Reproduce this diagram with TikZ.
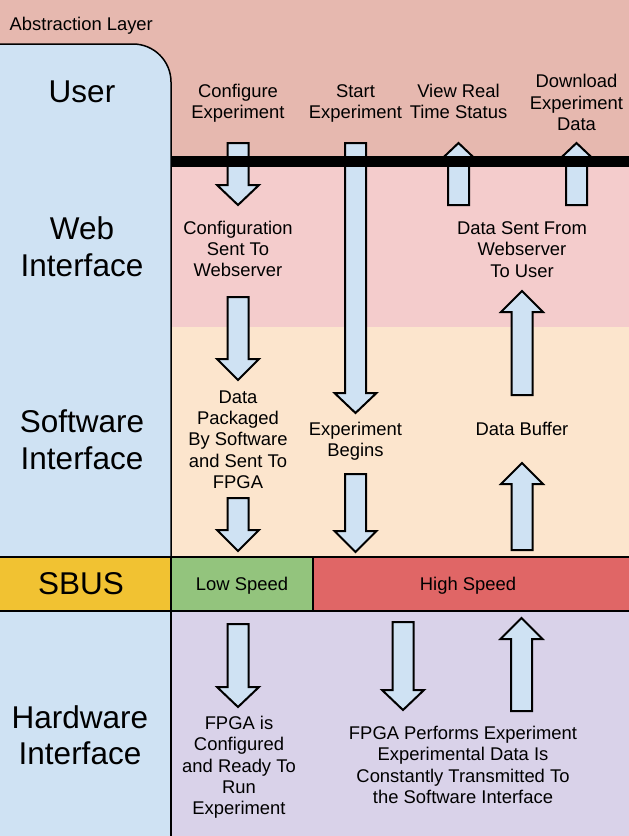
\documentclass[tikz,border=0pt]{standalone}
\usepackage{fontspec}
\setmainfont{Liberation Sans}
\definecolor{topband}{HTML}{E6B8AF}
\definecolor{webband}{HTML}{F4CCCC}
\definecolor{swband}{HTML}{FCE5CD}
\definecolor{hwband}{HTML}{D9D2E9}
\definecolor{leftcol}{HTML}{CFE2F3}
\definecolor{sbusy}{HTML}{F1C232}
\definecolor{sbusg}{HTML}{93C47D}
\definecolor{sbusr}{HTML}{E06666}
\newcommand\blkarrow[4]{% x, shaft end, head base, tip
  \draw[blockarr] ({#1-10.5},#2) -- ({#1+10.5},#2) -- ({#1+10.5},#3) -- ({#1+21},#3) -- (#1,#4) -- ({#1-21},#3) -- ({#1-10.5},#3) -- cycle;}
\begin{document}
\begin{tikzpicture}[x=1pt,y=-1pt,
  blockarr/.style={fill=leftcol,draw=black,line width=2pt,line join=miter},
  lbl/.style={inner sep=0pt,align=center,font=\fontsize{18.4}{21.3}\selectfont},
  biglbl/.style={inner sep=0pt,align=center,font=\fontsize{31.5}{36.5}\selectfont},
  bord/.style={draw=black,line width=1.5pt}]
\useasboundingbox (0,0) rectangle (629,836);
% bands
\fill[topband] (0,0) rectangle (629,160);
\fill[webband] (171,160) rectangle (629,327);
\fill[swband] (171,327) rectangle (629,557);
\fill[hwband] (171,611) rectangle (629,836);
% left column
\fill[leftcol] (-5,557) -- (-5,44) -- (133,44) arc[start angle=-90,end angle=0,radius=38] -- (171,557) -- cycle;
\draw[line width=1.5pt] (-5,44) -- (133,44) arc[start angle=-90,end angle=0,radius=38] -- (171,557);
\fill[leftcol] (-5,611) rectangle (171,840);
\draw[line width=1.5pt] (171,611) -- (171,840);
% arrows
\blkarrow{238}{143}{185}{205}
\blkarrow{238}{297}{359}{380}
\blkarrow{238}{498}{530}{551}
\blkarrow{355.5}{143}{393}{413}
\blkarrow{355.5}{474}{531}{552}
\blkarrow{458.5}{205}{163}{143}
\blkarrow{576.5}{205}{163}{143}
\blkarrow{522}{395}{312}{291}
\blkarrow{522}{550}{484}{463}
\blkarrow{238}{624}{687}{707}
\blkarrow{403}{622}{690}{710}
\blkarrow{521.5}{711}{639}{618}
% thick bar
\fill[black] (171,156) rectangle (629,167);
% SBUS row
\filldraw[fill=sbusy,bord] (-5,557) rectangle (171,611);
\filldraw[fill=sbusg,bord] (171,557) rectangle (313,611);
\filldraw[fill=sbusr,bord] (313,557) rectangle (634,611);
% texts
\node[lbl,anchor=base west] (abs) at (9.5,30.7) {Abstraction Layer};
\node[biglbl,anchor=base] (user) at (82,102) {User};
\node[biglbl] (web) at (82,246.5) {Web\\Interface};
\node[biglbl] (sw) at (82,440) {Software\\Interface};
\node[biglbl,anchor=base] (sbus) at (81,594.3) {SBUS};
\node[biglbl] (hw) at (80,735) {Hardware\\Interface};
\node[lbl,anchor=base] (low) at (242,590.7) {Low Speed};
\node[lbl,anchor=base] (high) at (468,590.7) {High Speed};
\node[lbl] (cfg) at (238,103.5) {Configure\\Experiment};
\node[lbl] (start) at (355.5,103.5) {Start\\Experiment};
\node[lbl] (view) at (458.5,101.5) {View Real\\Time Status};
\node[lbl] (dl) at (576.5,102.5) {Download\\Experiment\\Data};
\node[lbl] (cfgsent) at (238,249) {Configuration\\Sent To\\Webserver};
\node[lbl] (pack) at (238,439.5) {Data\\Packaged\\By Software\\and Sent To\\FPGA};
\node[lbl] (begins) at (355.5,441.5) {Experiment\\Begins};
\node[lbl] (sentuser) at (522,249.5) {Data Sent From\\Webserver\\To User};
\node[lbl,anchor=base] (buf) at (522,435.6) {Data Buffer};
\node[lbl] (fpgacfg) at (239,767.5) {FPGA is\\Configured\\and Ready To\\Run\\Experiment};
\node[lbl] (fpgarun) at (463,765) {FPGA Performs Experiment\\Experimental Data Is\\Constantly Transmitted To\\the Software Interface};
\end{tikzpicture}
\end{document}
